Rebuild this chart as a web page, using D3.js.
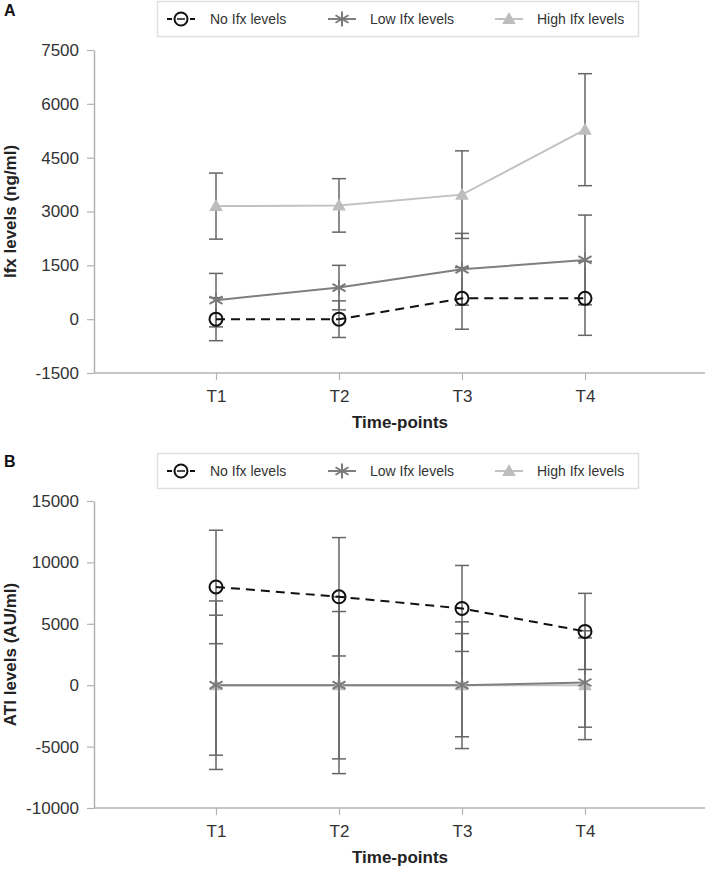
<!DOCTYPE html>
<html>
<head>
<meta charset="utf-8">
<script src="https://cdn.jsdelivr.net/npm/d3@7/dist/d3.min.js"></script>
<style>
  html, body { margin: 0; padding: 0; background: #fff; }
  svg { display: block; font-family: "Liberation Sans", Arial, sans-serif; }
</style>
</head>
<body>
<svg id="chart" width="711" height="872"></svg>
<script>
// ---------- Data ----------
const timePoints = ["T1", "T2", "T3", "T4"];
const seriesNames = ["No Ifx levels", "Low Ifx levels", "High Ifx levels"];

// Panel A: Ifx levels (ng/ml)
const ifxNoMean   = [0, 0, 580, 580];
const ifxNoErr    = [600, 510, 860, 1030];
const ifxLowMean  = [530, 880, 1390, 1650];
const ifxLowErr   = [745, 620, 1000, 1250];
const ifxHighMean = [3150, 3170, 3470, 5280];
const ifxHighErr  = [920, 745, 1220, 1560];
const ifxTicks    = [-1500, 0, 1500, 3000, 4500, 6000, 7500];

// Panel B: ATI levels (AU/ml)
const atiNoMean   = [8000, 7200, 6250, 4380];
const atiNoErr    = [4620, 4820, 3500, 3100];
const atiLowMean  = [0, 0, 0, 220];
const atiLowErr   = [5700, 6000, 4200, 3640];
const atiHighMean = [0, 0, 0, 0];
const atiHighErr  = [6860, 7200, 5160, 4430];
const atiTicks    = [-10000, -5000, 0, 5000, 10000, 15000];

// ---------- Drawing ----------
const svg = d3.select("#chart");
const xScale = d3.scaleLinear().domain([0, 5]).range([93, 708]);
const axisColor = "#b3b3b3";
const errColor = "#666666";

const styles = [
  { stroke: "#111111", dash: "9,6", marker: "circle" },
  { stroke: "#7f7f7f", dash: null, marker: "star" },
  { stroke: "#c2c2c2", dash: null, marker: "triangle" }
];

function markerPath(type) {
  if (type === "star") {
    const r = 7.5, t = r * Math.sqrt(3) / 2, u = r / 2;
    return `M0,${-r}L0,${r}M${-t},${-u}L${t},${u}M${-t},${u}L${t},${-u}`;
  }
  if (type === "triangle") {
    return "M0,-7L6.8,5L-6.8,5Z";
  }
  return null;
}

function drawMarker(g, type, x, y) {
  if (type === "circle") {
    g.append("circle").attr("cx", x).attr("cy", y).attr("r", 6.5)
      .attr("fill", "none").attr("stroke", "#111").attr("stroke-width", 2);
  } else if (type === "star") {
    g.append("path").attr("d", markerPath("star"))
      .attr("transform", `translate(${x},${y})`)
      .attr("fill", "none").attr("stroke", "#7a7a7a").attr("stroke-width", 2);
  } else {
    g.append("path").attr("d", markerPath("triangle"))
      .attr("transform", `translate(${x},${y})`)
      .attr("fill", "#bdbdbd");
  }
}

function drawLegend(top) {
  const g = svg.append("g");
  g.append("rect").attr("x", 157.5).attr("y", top + 0.5).attr("width", 481).attr("height", 35)
    .attr("fill", "#fff").attr("stroke", "#e0e0e0").attr("stroke-width", 1.5);
  const symX = [181, 342, 509];
  const textX = [210, 370, 537];
  const cy = top + 18;
  seriesNames.forEach((name, i) => {
    const s = styles[i];
    if (i === 0) {
      g.append("line").attr("x1", symX[i] - 14).attr("x2", symX[i] - 9).attr("y1", cy).attr("y2", cy)
        .attr("stroke", "#111").attr("stroke-width", 2);
      g.append("line").attr("x1", symX[i] + 9).attr("x2", symX[i] + 14).attr("y1", cy).attr("y2", cy)
        .attr("stroke", "#111").attr("stroke-width", 2);
      g.append("line").attr("x1", symX[i] - 4).attr("x2", symX[i] + 4).attr("y1", cy).attr("y2", cy)
        .attr("stroke", "#111").attr("stroke-width", 1.5);
    } else {
      g.append("line").attr("x1", symX[i] - 14).attr("x2", symX[i] + 14).attr("y1", cy).attr("y2", cy)
        .attr("stroke", s.stroke).attr("stroke-width", 2);
    }
    drawMarker(g, s.marker, symX[i], cy);
    g.append("text").attr("x", textX[i]).attr("y", cy).attr("dy", "0.35em")
      .attr("font-size", 14).attr("fill", "#333").text(name);
  });
}

function drawPanel(cfg) {
  const y = d3.scaleLinear().domain(cfg.domain).range([cfg.bottom, cfg.top]);
  const g = svg.append("g");

  // panel letter
  svg.append("text").attr("x", 4).attr("y", cfg.letterY).attr("font-size", 16)
    .attr("font-weight", "bold").attr("fill", "#111").text(cfg.letter);

  // y axis
  const yAxis = d3.axisLeft(y).tickValues(cfg.ticks).tickSizeOuter(0).tickSizeInner(7).tickPadding(8)
    .tickFormat(d => String(d));
  const ya = g.append("g").attr("transform", "translate(94,0)").call(yAxis);
  ya.select(".domain").attr("stroke", axisColor).attr("stroke-width", 1.5);
  ya.selectAll(".tick line").attr("stroke", axisColor).attr("stroke-width", 1.2);
  ya.selectAll(".tick text").attr("font-size", 17).attr("fill", "#333")
    .attr("font-family", "Liberation Sans, Arial, sans-serif");

  // x axis
  const xAxis = d3.axisBottom(xScale).tickValues([1, 2, 3, 4]).tickSizeOuter(0).tickSizeInner(7)
    .tickPadding(10).tickFormat(d => timePoints[d - 1]);
  const xa = g.append("g").attr("transform", `translate(0,${cfg.bottom})`).call(xAxis);
  xa.select(".domain").attr("d", `M94,0H705`).attr("stroke", axisColor).attr("stroke-width", 1.5);
  xa.selectAll(".tick line").attr("stroke", axisColor).attr("stroke-width", 1.2);
  xa.selectAll(".tick text").attr("font-size", 17).attr("fill", "#333")
    .attr("font-family", "Liberation Sans, Arial, sans-serif");

  // axis titles
  g.append("text").attr("transform", `translate(16,${(cfg.top + cfg.bottom) / 2}) rotate(-90)`)
    .attr("text-anchor", "middle").attr("font-size", 17).attr("font-weight", "bold")
    .attr("fill", "#222").text(cfg.yTitle);
  g.append("text").attr("x", 400).attr("y", cfg.bottom + 55).attr("text-anchor", "middle")
    .attr("font-size", 17).attr("font-weight", "bold").attr("fill", "#222").text("Time-points");

  // error bars
  const eg = g.append("g");
  cfg.series.forEach(s => {
    s.mean.forEach((m, i) => {
      const x = xScale(i + 1);
      const y1 = y(m + s.err[i]), y2 = y(m - s.err[i]);
      eg.append("line").attr("x1", x).attr("x2", x).attr("y1", y1).attr("y2", y2)
        .attr("stroke", errColor).attr("stroke-width", 1.5);
      [y1, y2].forEach(yy => eg.append("line").attr("x1", x - 7).attr("x2", x + 7)
        .attr("y1", yy).attr("y2", yy).attr("stroke", errColor).attr("stroke-width", 1.5));
    });
  });

  // lines (draw high first, then low, then no)
  const line = d3.line().x((d, i) => xScale(i + 1)).y(d => y(d));
  [2, 1, 0].forEach(k => {
    const s = cfg.series[k], st = styles[k];
    g.append("path").attr("d", line(s.mean)).attr("fill", "none")
      .attr("stroke", st.stroke).attr("stroke-width", 2)
      .attr("stroke-dasharray", st.dash);
  });
  // markers
  [2, 1, 0].forEach(k => {
    const s = cfg.series[k], st = styles[k];
    s.mean.forEach((m, i) => drawMarker(g, st.marker, xScale(i + 1), y(m)));
  });

  drawLegend(cfg.legendTop);
}

drawPanel({
  letter: "A", letterY: 16, legendTop: 1,
  domain: [-1500, 7500], top: 50, bottom: 373, ticks: ifxTicks,
  yTitle: "Ifx levels (ng/ml)",
  series: [
    { mean: ifxNoMean, err: ifxNoErr },
    { mean: ifxLowMean, err: ifxLowErr },
    { mean: ifxHighMean, err: ifxHighErr }
  ]
});

drawPanel({
  letter: "B", letterY: 467, legendTop: 453,
  domain: [-10000, 15000], top: 501, bottom: 808, ticks: atiTicks,
  yTitle: "ATI levels (AU/ml)",
  series: [
    { mean: atiNoMean, err: atiNoErr },
    { mean: atiLowMean, err: atiLowErr },
    { mean: atiHighMean, err: atiHighErr }
  ]
});
</script>
</body>
</html>
